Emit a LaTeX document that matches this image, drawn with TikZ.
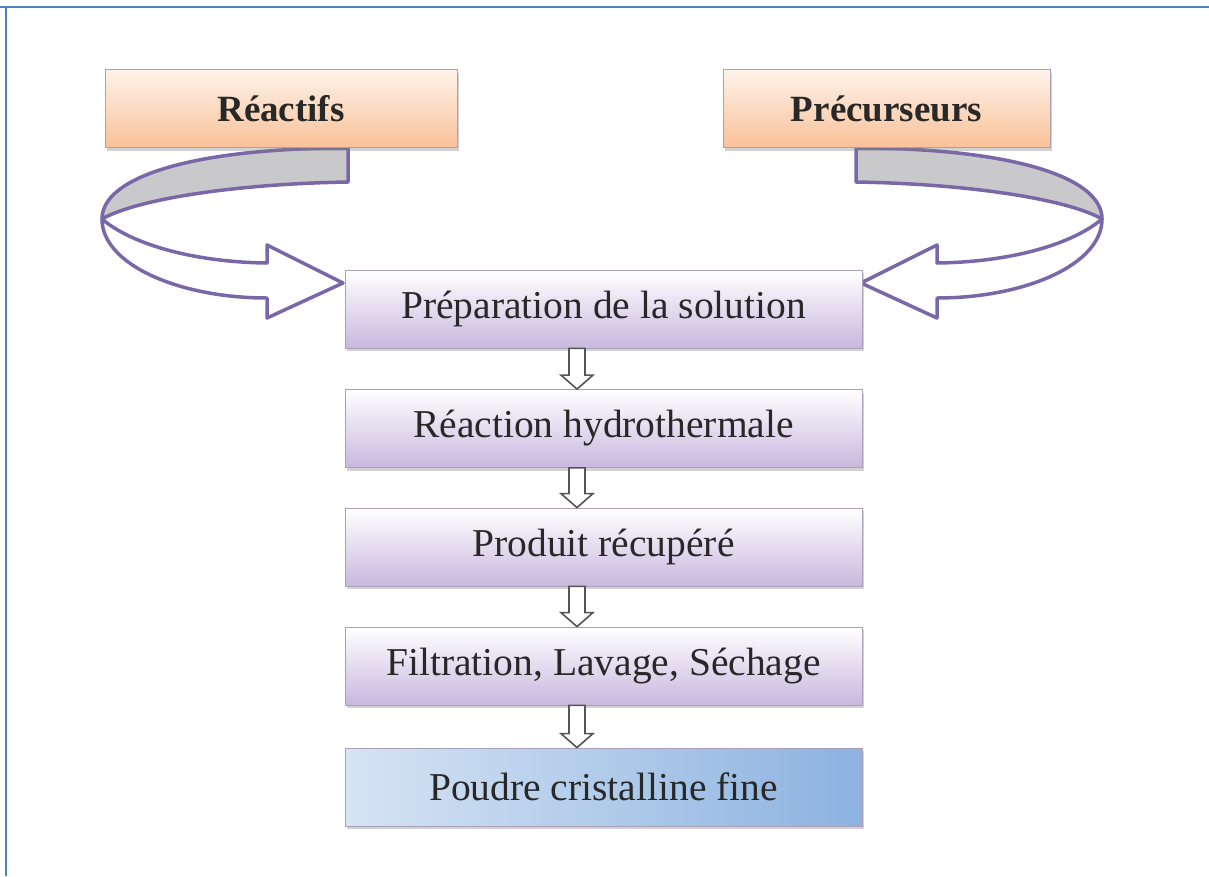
\documentclass[tikz,border=0pt]{standalone}
\usepackage{fontspec}
\setmainfont{Liberation Serif}
\usetikzlibrary{calc,shadows}

\definecolor{frameblue}{RGB}{79,129,189}
\definecolor{ribbonline}{RGB}{122,103,168}
\definecolor{ribbonback}{RGB}{201,201,203}
\definecolor{boxedge}{RGB}{170,160,185}
\definecolor{lav}{RGB}{200,184,222}
\definecolor{peachtop}{RGB}{254,243,234}
\definecolor{peach}{RGB}{249,193,152}
\definecolor{bluelight}{RGB}{214,228,244}
\definecolor{bluedark}{RGB}{140,178,224}
\definecolor{ink}{RGB}{40,40,40}
\definecolor{arrowgray}{RGB}{85,85,85}

% hollow down arrow between two stacked boxes
\newcommand\flowarrow[2]{%
  \path ($(#1.south)+(-26.5,0)$) coordinate (fa)
        ($(#2.north)+(-26.5,0)$) coordinate (fb);
  \draw[hollow] ($(fa)+(-8,0)$) -- ($(fb)+(-8,-14)$) -- ($(fb)+(-16,-14)$)
     -- (fb) -- ($(fb)+(16,-14)$) -- ($(fb)+(8,-14)$) -- ($(fa)+(8,0)$) -- cycle;
}

% curved ribbon arrow: grey back band, white front band with head
\newcommand\ribbonarrow{%
  \draw[ribbon, fill=ribbonback] (348,148) .. controls (200,148) and (102,175) .. (102,219)
     .. controls (135,200) and (230,184) .. (348,182) -- cycle;
  \draw[ribbon, fill=white] (102,219) .. controls (102,265) and (180,298) .. (267,298)
     -- (267,318) -- (343,283) -- (267,245) -- (267,263)
     .. controls (190,262) and (130,243) .. (102,219) -- cycle;
}

\begin{document}
\begin{tikzpicture}[x=1pt,y=-1pt,
  box/.style={draw=boxedge, line width=0.8pt, inner sep=0pt, minimum height=78pt,
    text=ink, font=\fontsize{39.5}{47}\selectfont,
    drop shadow={shadow xshift=1.5pt, shadow yshift=-3pt, opacity=.35}},
  stepbox/.style={box, minimum width=517pt, top color=white, bottom color=lav},
  srcbox/.style={box, top color=peachtop, bottom color=peach,
    font=\fontsize{37}{44}\selectfont\bfseries},
  endbox/.style={box, minimum width=517pt, left color=bluelight, right color=bluedark},
  ribbon/.style={draw=ribbonline, line width=3.5pt, line join=round},
  hollow/.style={draw=arrowgray, fill=white, line width=1.6pt, line join=miter}
]
\useasboundingbox (0,0) rectangle (1209,876);
\fill[white] (0,0) rectangle (1209,876);

% page frame
\draw[frameblue, line width=2.5pt] (0,7) -- (1209,7);
\draw[frameblue, line width=2.5pt] (6,7) -- (6,876);

% ribbons from the two sources into the first step
\ribbonarrow
\begin{scope}[shift={(1204,0)}, xscale=-1]
  \ribbonarrow
\end{scope}

% source boxes
\node[srcbox, minimum width=352pt] (rea) at (281,108.5) {Réactifs};
\node[srcbox, minimum width=327pt] (pre) at (886.5,108.5) {Précurseurs};

% process steps
\node[stepbox] (prep) at (603.5,309) {Préparation de la solution};
\node[stepbox] (reac) at (603.5,428.5) {Réaction hydrothermale};
\node[stepbox] (prod) at (603.5,547) {Produit récupéré};
\node[stepbox] (filt) at (603.5,666) {Filtration, Lavage, Séchage};
\node[endbox]  (poud) at (603.5,787) {Poudre cristalline fine};

\flowarrow{prep}{reac}
\flowarrow{reac}{prod}
\flowarrow{prod}{filt}
\flowarrow{filt}{poud}
\end{tikzpicture}
\end{document}
